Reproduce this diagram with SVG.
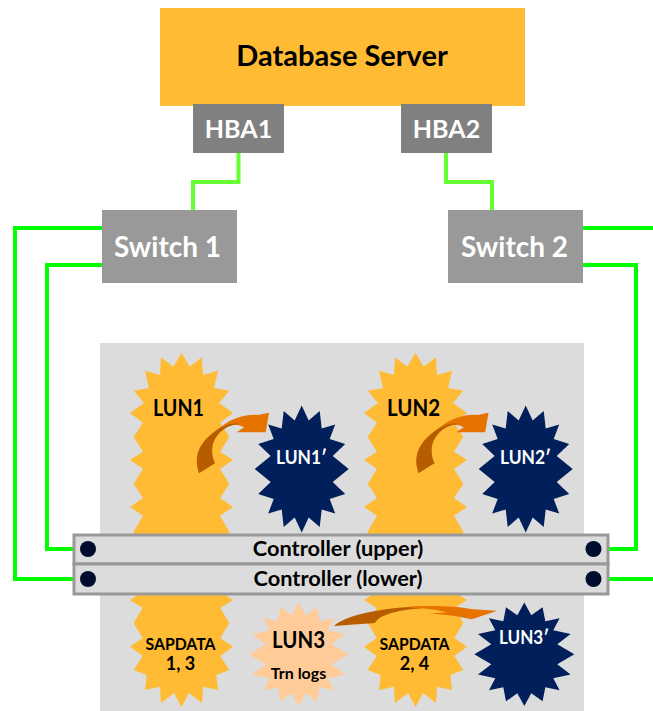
<svg xmlns="http://www.w3.org/2000/svg" xmlns:xlink="http://www.w3.org/1999/xlink" width="653" height="711" viewBox="0 0 653 711">
<style>
text{font-family:"Lato","Liberation Sans",sans-serif;font-weight:700;text-anchor:middle}
.w{fill:#fff}.k{fill:#000}
.navy{fill:#001F5B}.yel{fill:#FFBB33}.peach{fill:#FFCC99}
.ctl{fill:#DCDCDC;stroke:#999;stroke-width:3}
.dot{fill:#000C2E}
.ln{fill:none;stroke:#00FF00;stroke-width:4}
.ln2{fill:none;stroke:#66FF33;stroke-width:4}
.ad{fill:#B85C00}.al{fill:#E67300}
</style>
<defs>
<polygon id="long" points="181.5,352.7 173.3,366.7 161,357.3 160,375 145,370.7 149,388 133.7,390.7 144,403 130,413 143,422.7 133.7,437 143,451.7 130,460 143,469 133.7,483.7 143,498 130,507 143,515.7 133.7,531.7 133.7,585 142.7,592 130,600 142.7,608 133.7,623 142.7,638 130,646.7 142.7,656 133.7,670 146.7,675 145,690 160,686.7 161,703 174,693 181.5,707 189,693 202,703 203,686.7 218,690 216.3,675 229.3,670 220.3,656 233,646.7 220.3,638 229.3,623 220.3,608 233,600 220.3,592 229.3,585 229.3,531.7 220,515.7 233,507 220,498 229.3,483.7 220,469 233,460 220,451.7 229.3,437 220,422.7 233,413 219,403 229.3,390.7 214,388 218,370.7 203,375 202,357.3 189.7,366.7"/>
<polygon id="tall" points="0,-63.5 7,-48.5 18,-58 20,-40.5 33.5,-44.5 28,-30 43.5,-25 31,-13 47,0 31,13 43.5,25 28,30 33.5,44.5 20,40.5 18,58 7,48.5 0,63.5 -7,48.5 -18,58 -20,40.5 -33.5,44.5 -28,30 -43.5,25 -31,13 -47,0 -31,-13 -43.5,-25 -28,-30 -33.5,-44.5 -20,-40.5 -18,-58 -7,-48.5"/>
<polygon id="round" points="0,-51.7 7,-39 18.3,-47 21,-33 35.3,-36 29,-24 46.3,-20.3 33,-10 50,0 33,10 46.3,20.3 29,24 35.3,36 21,33 18.3,47 7,39 0,51.7 -7,39 -18.3,47 -21,33 -35.3,36 -29,24 -46.3,20.3 -33,10 -50,0 -33,-10 -46.3,-20.3 -29,-24 -35.3,-36 -21,-33 -18.3,-47 -7,-39"/>
<g id="curl">
<path class="al" d="M221,427 C232,418 246,414 258,415 L269,412.7 L265.7,432.3 L236.7,432.3 L244.3,427.3 C238,424 230,424 221,427Z"/>
<path class="ad" d="M199,473.3 C194,458 196,443 221,427 C231,423 236,423 240,424 C224,424 205,440 215,463.3Z"/>
</g>
</defs>

<g id="panel"><rect x="100" y="343" width="484" height="368" fill="#DCDCDC"/></g>

<g id="connectors">
<path class="ln2" d="M238.500 153V182H193V210"/>
<path class="ln2" d="M446 153V182H492V210"/>
<path class="ln" d="M102 228H15V579H74"/>
<path class="ln" d="M102 265H47V549H74"/>
<path class="ln" d="M583 228H653"/>
<path class="ln" d="M583 265H636V549H608"/>
<path class="ln" d="M608 579H653"/>
</g>

<g id="database-server"><rect x="160" y="8" width="365" height="98" class="yel"/><text x="342" y="66" font-size="29" class="k">Database Server</text></g>
<g id="hba1"><rect x="193" y="104" width="91" height="49" fill="#808080"/><text x="238.500" y="138" font-size="25" class="w">HBA1</text></g>
<g id="hba2"><rect x="401" y="104" width="91" height="49" fill="#808080"/><text x="446.500" y="138" font-size="25" class="w">HBA2</text></g>
<g id="switch1"><rect x="102" y="210" width="135" height="73" fill="#999"/><text x="167.500" y="257" font-size="28" class="w">Switch 1</text></g>
<g id="switch2"><rect x="448" y="210" width="135" height="73" fill="#999"/><text x="514.500" y="257" font-size="28" class="w">Switch 2</text></g>

<g id="lun1"><use xlink:href="#long" href="#long" class="yel"/><text x="178.500" y="416" font-size="23" textLength="51" lengthAdjust="spacingAndGlyphs" class="k">LUN1</text></g>
<g id="lun2"><use xlink:href="#long" href="#long" x="234" class="yel"/><text x="413.500" y="416" font-size="23" textLength="53" lengthAdjust="spacingAndGlyphs" class="k">LUN2</text></g>
<g id="lun1p"><use xlink:href="#tall" href="#tall" x="301.700" y="469" class="navy"/><text x="301.500" y="464" font-size="19.500" textLength="51" lengthAdjust="spacingAndGlyphs" class="w">LUN1′</text></g>
<g id="lun2p"><use xlink:href="#tall" href="#tall" x="525.700" y="469" class="navy"/><text x="525.500" y="464" font-size="19.500" textLength="51" lengthAdjust="spacingAndGlyphs" class="w">LUN2′</text></g>
<g id="sapdata13"><text x="180.500" y="650" font-size="17.500" textLength="70" lengthAdjust="spacingAndGlyphs" class="k">SAPDATA</text><text x="180.500" y="670" font-size="18" class="k">1, 3</text></g>
<g id="sapdata24"><text x="414.500" y="650" font-size="17.500" textLength="70" lengthAdjust="spacingAndGlyphs" class="k">SAPDATA</text><text x="414.500" y="670" font-size="18" class="k">2, 4</text></g>
<g id="lun3"><use xlink:href="#round" href="#round" x="298.700" y="654.300" class="peach"/><text x="298.500" y="648" font-size="23" textLength="53" lengthAdjust="spacingAndGlyphs" class="k">LUN3</text><text x="298.500" y="679" font-size="16" class="k">Trn logs</text></g>
<g id="lun3p"><use xlink:href="#round" href="#round" x="524.300" y="654.300" class="navy"/><text x="524" y="644" font-size="19.500" textLength="50" lengthAdjust="spacingAndGlyphs" class="w">LUN3′</text></g>

<g id="arrows">
<use xlink:href="#curl" href="#curl"/>
<use xlink:href="#curl" href="#curl" x="219.500"/>
<path class="ad" d="M334 626C345 616 375 609 412 606.800C425 606.500 425 608 420 608.500C395 610 378 616 375 623C360 624 345 625 334 626Z"/>
<path class="al" d="M410 606.700C425 605 460 606 473 609.300L497.300 610.700L471.700 619.300L455 616L430 613.300L447 612.500C435 609 420 607.500 410 608Z"/>
</g>

<g id="controller-upper"><rect x="74" y="535" width="534" height="29" class="ctl"/><circle cx="88" cy="549" r="8" class="dot"/><circle cx="593.500" cy="549" r="8" class="dot"/><text x="338" y="556" font-size="21.800" class="k">Controller (upper)</text></g>
<g id="controller-lower"><rect x="74" y="564" width="534" height="30" class="ctl"/><circle cx="88" cy="579" r="8" class="dot"/><circle cx="593.500" cy="579" r="8" class="dot"/><text x="338" y="586" font-size="21.800" class="k">Controller (lower)</text></g>
</svg>
